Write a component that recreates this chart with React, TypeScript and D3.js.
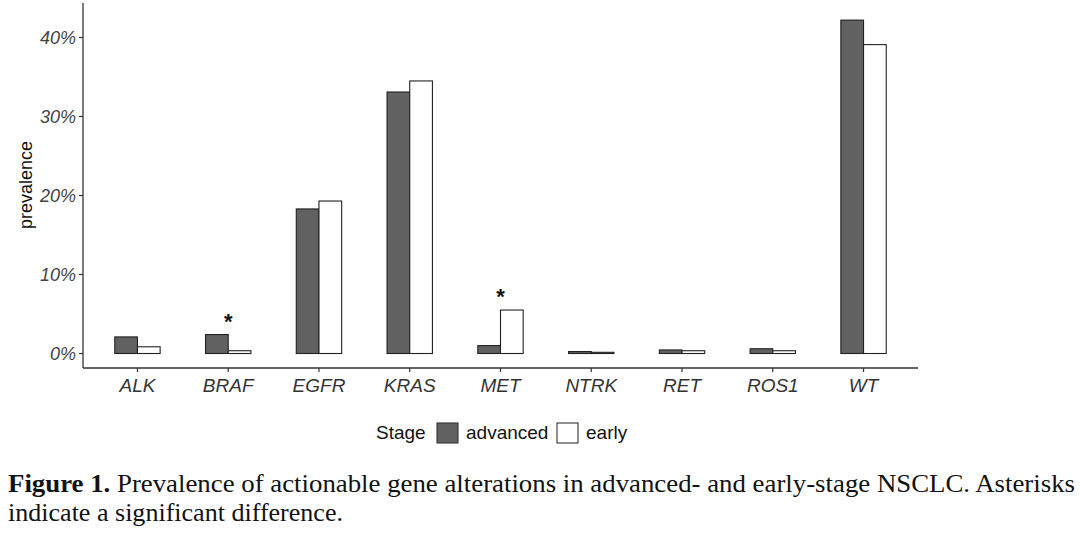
import React from "react";
import * as d3 from "d3";

const genes = ["ALK", "BRAF", "EGFR", "KRAS", "MET", "NTRK", "RET", "ROS1", "WT"];
const advanced = [2.1, 2.4, 18.3, 33.1, 1.0, 0.25, 0.45, 0.6, 42.2];
const early = [0.85, 0.35, 19.3, 34.5, 5.5, 0.15, 0.35, 0.35, 39.1];
const significant = ["BRAF", "MET"];
const yTicks = [0, 10, 20, 30, 40];
const stages = ["advanced", "early"];
const stageColors = ["#616161", "#ffffff"];

export default function App() {
  const W = 1080, H = 535;
  const left = 83, right = 918, top = 3, axisY = 368;
  // ggplot discrete expansion: 0.6 units each side
  const x = d3.scalePoint<string>().domain(genes).range([left, right]).padding(0.6);
  const unit = x.step();
  const cx = (g: string) => x(g) as number;
  const y = d3.scaleLinear().domain([0, 40]).range([353.5, 37.5]);
  const bw = unit * 0.25;
  const series = [advanced, early];
  const font = "'Liberation Sans', Arial, sans-serif";
  const serif = "'Liberation Serif', 'DejaVu Serif', serif";

  return (
    <svg width={W} height={H} style={{ position: "absolute", left: 0, top: 0, background: "#fff" }}>
      {genes.map((g, i) =>
        series.map((s, j) => (
          <rect
            key={g + j}
            x={cx(g) - bw + j * bw}
            y={y(s[i])}
            width={bw}
            height={y(0) - y(s[i])}
            fill={stageColors[j]}
            stroke="#222"
            strokeWidth={1.1}
          />
        ))
      )}
      {significant.map((g) => {
        const i = genes.indexOf(g);
        const m = Math.max(advanced[i], early[i]);
        return (
          <text key={g} x={cx(g)} y={y(m) - 6} textAnchor="middle" fontFamily={font} fontSize={22} fontWeight="bold" fill="#111">
            *
          </text>
        );
      })}
      <line x1={left} x2={left} y1={top} y2={axisY} stroke="#333" strokeWidth={1.3} />
      <line x1={left} x2={right} y1={axisY} y2={axisY} stroke="#333" strokeWidth={1.3} />
      {yTicks.map((t) => (
        <g key={t}>
          <line x1={left - 4} x2={left} y1={y(t)} y2={y(t)} stroke="#333" strokeWidth={1.2} />
          <text x={left - 7} y={y(t)} dy="0.36em" textAnchor="end" fontFamily={font} fontStyle="italic" fontSize={18} fill="#444">
            {t}%
          </text>
        </g>
      ))}
      {genes.map((g) => (
        <g key={g}>
          <line x1={cx(g)} x2={cx(g)} y1={axisY} y2={axisY + 4} stroke="#333" strokeWidth={1.2} />
          <text x={cx(g)} y={392} textAnchor="middle" fontFamily={font} fontStyle="italic" fontSize={19} fill="#333">
            {g}
          </text>
        </g>
      ))}
      <text transform="translate(32,185) rotate(-90)" textAnchor="middle" fontFamily={font} fontSize={18} fill="#111">
        prevalence
      </text>
      <text x={376} y={439} fontFamily={font} fontSize={19} fill="#111">Stage</text>
      {stages.map((s, j) => {
        const kx = j === 0 ? 437 : 557;
        return (
          <g key={s}>
            <rect x={kx} y={423} width={21} height={20} fill={stageColors[j]} stroke="#333" strokeWidth={1.1} />
            <text x={kx + 29} y={439} fontFamily={font} fontSize={19} fill="#111">{s}</text>
          </g>
        );
      })}
      <text x={8} y={492} fontFamily={serif} fontSize={26} fill="#111" textLength={1067} lengthAdjust="spacingAndGlyphs">
        <tspan fontWeight="bold">Figure 1.</tspan>
        <tspan> Prevalence of actionable gene alterations in advanced- and early-stage NSCLC. Asterisks</tspan>
      </text>
      <text x={8} y={521} fontFamily={serif} fontSize={26} fill="#111" textLength={335} lengthAdjust="spacingAndGlyphs">
        indicate a significant difference.
      </text>
    </svg>
  );
}
